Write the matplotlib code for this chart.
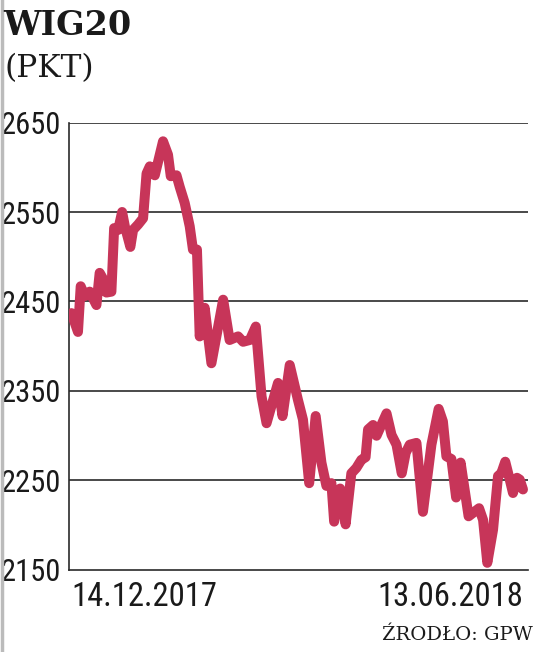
import matplotlib
matplotlib.use("Agg")
import matplotlib.pyplot as plt
from matplotlib import font_manager
from matplotlib.lines import Line2D

# days since 14.12.2017 and WIG20 close (pkt)
days = [0, 2.6, 3.7, 5.3, 7.3, 10.0, 11.3, 12.5, 14.0, 16.0,
        17.1, 18.7, 20.3, 21.4, 23.6, 24.7, 26.7, 28.7, 30.1, 31.4,
        33.4, 36.7, 38.7, 39.8, 42.1, 43.4, 45.4, 47.4, 48.7, 50.3,
        51.4, 53.4, 56.1, 60.8, 63.4, 66.8, 68.8, 71.5, 73.9, 76.2,
        78.2, 82.8, 84.6, 87.5, 90.8, 92.8, 95.3, 97.9, 100.2, 102.2,
        104.2, 105.3, 107.7, 109.9, 112.2, 114.2, 116.2, 117.9, 118.9, 120.9,
        122.3, 126.3, 128.3, 130.3, 132.4, 134.0, 135.6, 138.3, 140.9, 144.3,
        147.2, 148.9, 150.3, 152.3, 154.2, 156.0, 157.6, 159.2, 163.4, 165.0,
        166.7, 169.0, 171.0, 172.3, 173.9, 175.7, 177.0, 178.6, 179.7, 181]
wig20 = [2437, 2416, 2467, 2456, 2461, 2446, 2482, 2476, 2460, 2461,
         2532, 2530, 2550, 2534, 2511, 2530, 2536, 2543, 2593, 2601,
         2591, 2629, 2614, 2590, 2591, 2578, 2560, 2534, 2508, 2508,
         2411, 2443, 2381, 2452, 2407, 2411, 2405, 2407, 2422, 2344,
         2314, 2359, 2322, 2379, 2340, 2318, 2247, 2322, 2270, 2244,
         2247, 2204, 2241, 2201, 2258, 2264, 2273, 2276, 2307, 2312,
         2300, 2325, 2301, 2290, 2258, 2281, 2290, 2292, 2215, 2290,
         2330, 2316, 2277, 2274, 2231, 2270, 2240, 2210, 2219, 2206,
         2158, 2195, 2255, 2258, 2271, 2251, 2236, 2253, 2251, 2240]

y_ticks = [2150, 2250, 2350, 2450, 2550, 2650]
x_ticks = [0, 181]
x_labels = ["14.12.2017", "13.06.2018"]

# the numbers in the original use a narrow DIN-like face; pick a condensed
# one if the machine has it, otherwise a narrow-ish sans at a smaller size
fonts = font_manager.fontManager.ttflist
names = {f.name for f in fonts}
if "Roboto Condensed" in names:
    num_font = dict(family="Roboto Condensed")
    ysize, xsize = 22, 23.5
elif "Liberation Sans Narrow" in names:
    num_font = dict(family="Liberation Sans Narrow")
    ysize, xsize = 22, 23.5
elif any(f.name == "DejaVu Sans" and f.stretch == "condensed" for f in fonts):
    num_font = dict(family="DejaVu Sans", fontstretch="condensed")
    ysize, xsize = 20, 20.5
else:
    num_font = dict(family="Liberation Sans")
    ysize, xsize = 18.5, 18.5

fig = plt.figure(figsize=(5.36, 6.52), dpi=100)
ax = fig.add_axes([0.1287, 0.1258, 0.8563, 0.6863])

for v in y_ticks[1:]:
    ax.axhline(v, color="#2a2a2a", lw=1.2, zorder=1)

ax.plot(days, wig20, color="#C73559", lw=7.2, solid_joinstyle="round",
        solid_capstyle="round", zorder=3)

ax.set_xlim(-1, 183)
ax.set_ylim(2150, 2650)
for s in ["top", "right"]:
    ax.spines[s].set_visible(False)
for s in ["left", "bottom"]:
    ax.spines[s].set_color("#2a2a2a")
    ax.spines[s].set_linewidth(1.2)

ax.set_yticks(y_ticks)
ax.set_yticklabels([str(v) for v in y_ticks], fontsize=ysize,
                   color="#1a1a1a", **num_font)
ax.set_xticks(x_ticks)
ax.set_xticklabels(x_labels, fontsize=xsize, color="#1a1a1a", **num_font)
ax.get_xticklabels()[0].set_ha("left")
ax.get_xticklabels()[1].set_ha("right")
ax.tick_params(axis="y", length=0, pad=6)
ax.tick_params(axis="x", length=0, pad=8)

fig.text(0.006, 0.947, "WIG20", family="DejaVu Serif", fontweight="bold",
         fontsize=24, color="#1a1a1a", va="baseline")
fig.text(0.008, 0.882, "(PKT)", family="DejaVu Serif", fontsize=22.5,
         color="#1a1a1a", va="baseline")
fig.text(0.994, 0.018, "ŹRODŁO: GPW", family="DejaVu Serif", fontsize=14,
         color="#1a1a1a", ha="right", va="baseline")

fig.add_artist(Line2D([0.003, 0.003], [0, 1], color="#bbbbbb", lw=2.5))

fig.savefig("out.png", dpi=100)
